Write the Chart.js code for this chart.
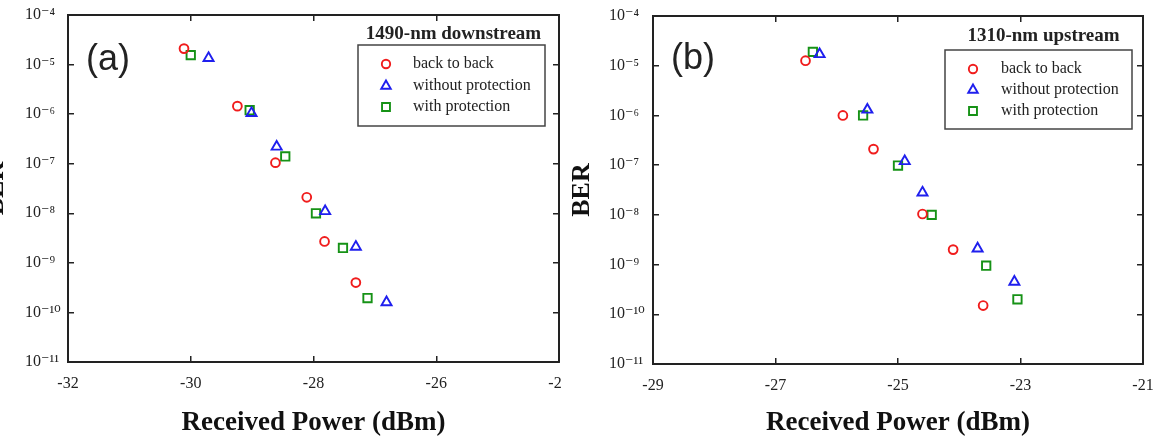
<!DOCTYPE html>
<html><head><meta charset="utf-8">
<script src="https://cdn.jsdelivr.net/npm/chart.js@4.4.1/dist/chart.umd.min.js"></script>
<style>
html,body{margin:0;padding:0;background:#fff;}
body{width:1159px;height:438px;position:relative;overflow:hidden;}
#wa{position:absolute;left:0;top:0;width:562px;height:438px;overflow:hidden;}
#ca{position:absolute;left:-40px;top:0;}
#wb{position:absolute;left:562px;top:0;width:597px;height:438px;overflow:hidden;}
#cb{position:absolute;left:0;top:0;}
</style></head><body>
<div id="wa"><canvas id="ca" width="622" height="438"></canvas></div>
<div id="wb"><canvas id="cb" width="597" height="438"></canvas></div>
<script>
// ---- Data ----
const seriesLabels = ['back to back', 'without protection', 'with protection'];

// (a) 1490-nm downstream
const aPowerB2B    = [-30.11, -29.24, -28.62, -28.11, -27.82, -27.31];
const aBerB2B      = [2.1e-5, 1.45e-6, 1.05e-7, 2.1e-8, 2.7e-9, 4.0e-10];
const aPowerNoProt = [-29.71, -29.01, -28.60, -27.81, -27.31, -26.81];
const aBerNoProt   = [1.35e-5, 1.05e-6, 2.2e-7, 1.1e-8, 2.1e-9, 1.6e-10];
const aPowerProt   = [-30.00, -29.04, -28.46, -27.96, -27.52, -27.12];
const aBerProt     = [1.55e-5, 1.2e-6, 1.4e-7, 1.0e-8, 2.0e-9, 1.95e-10];

// (b) 1310-nm upstream
const bPowerB2B    = [-26.51, -25.90, -25.40, -24.60, -24.10, -23.61];
const bBerB2B      = [1.26e-5, 1.0e-6, 2.1e-7, 1.04e-8, 2.0e-9, 1.5e-10];
const bPowerNoProt = [-26.28, -25.50, -24.89, -24.60, -23.70, -23.10];
const bBerNoProt   = [1.7e-5, 1.3e-6, 1.2e-7, 2.8e-8, 2.1e-9, 4.5e-10];
const bPowerProt   = [-26.39, -25.57, -25.00, -24.45, -23.56, -23.05];
const bBerProt     = [1.9e-5, 1.0e-6, 9.8e-8, 1.0e-8, 9.5e-10, 2.0e-10];

// ---- Ticks / text ----
const aXTicks = [-32, -30, -28, -26, -24];
const bXTicks = [-29, -27, -25, -23, -21];
const yTicks  = [1e-11, 1e-10, 1e-9, 1e-8, 1e-7, 1e-6, 1e-5, 1e-4];
const xTitle = 'Received Power (dBm)';
const yTitle = 'BER';
const aHeading = '1490-nm downstream';
const bHeading = '1310-nm upstream';
const aPanel = '(a)';
const bPanel = '(b)';

// ---- Helpers ----
const SERIF = "'Liberation Serif', 'Times New Roman', 'DejaVu Serif', serif";
const SUP = {'-':'\u207B','0':'\u2070','1':'\u00B9','2':'\u00B2','3':'\u00B3','4':'\u2074','5':'\u2075','6':'\u2076','7':'\u2077','8':'\u2078','9':'\u2079'};
function expLabel(v){
  const e = Math.round(Math.log10(v));
  return '10' + String(e).split('').map(c => SUP[c]).join('');
}
function pts(xs, ys){ return xs.map((x, i) => ({x: x, y: ys[i]})); }

const COLORS = ['#f01c1c', '#1f1fee', '#169216'];
const STYLES = ['circle', 'triangle', 'rect'];
const RADII  = [4.4, 5.8, 5.9];

const insetLegend = {
  id: 'insetLegend',
  afterDraw(chart, args, o) {
    const ctx = chart.ctx, ca = chart.chartArea;
    ctx.save();
    ctx.fillStyle = '#222';
    ctx.textBaseline = 'middle';
    ctx.textAlign = 'left';
    ctx.font = "36px 'Liberation Sans', Arial, sans-serif";
    ctx.fillText(o.panel, ca.left + o.panelDx, ca.top + o.panelDy);

    const bx = ca.right - o.boxRight - o.boxW;
    const by = ca.top + o.boxTop;
    ctx.font = 'bold 19px ' + SERIF;
    ctx.textAlign = 'center';
    ctx.fillText(o.heading, bx + o.boxW - o.headingCx, ca.top + o.headingDy);

    ctx.strokeStyle = '#444';
    ctx.lineWidth = 1.5;
    ctx.strokeRect(bx, by, o.boxW, o.boxH);

    ctx.font = '16px ' + SERIF;
    ctx.textAlign = 'left';
    chart.data.datasets.forEach((ds, i) => {
      const y = by + o.rowDy[i];
      ctx.save();
      ctx.strokeStyle = ds.borderColor;
      ctx.fillStyle = 'rgba(0,0,0,0)';
      ctx.lineWidth = ds.pointBorderWidth;
      Chart.helpers.drawPoint(ctx, {pointStyle: ds.pointStyle, radius: ds.pointRadius * 0.95, borderWidth: ds.pointBorderWidth, rotation: 0}, bx + o.markerDx, y);
      ctx.restore();
      ctx.fillStyle = '#222';
      ctx.fillText(ds.label, bx + o.textDx, y);
    });
    ctx.restore();
  }
};

function makeChart(cfg) {
  const fix = (prop, size) => s => {
    s[prop] = size;
    s.paddingLeft = 0; s.paddingRight = 0; s.paddingTop = 0; s.paddingBottom = 0;
  };
  const setTicks = vals => s => { s.ticks = vals.map(v => ({value: v})); };
  const grid = {display: true, drawOnChartArea: false, drawTicks: true, tickLength: -6, color: '#222', lineWidth: 1.5};
  const border = {display: true, color: '#222', width: 2};
  const xMin = cfg.xTicks[0], xMax = cfg.xTicks[cfg.xTicks.length - 1];

  const datasets = cfg.series.map((s, i) => ({
    label: seriesLabels[i],
    data: pts(s[0], s[1]),
    pointStyle: STYLES[i],
    pointRadius: RADII[i],
    pointBorderWidth: 1.9,
    borderColor: COLORS[i],
    backgroundColor: 'rgba(0,0,0,0)',
    pointBackgroundColor: 'rgba(0,0,0,0)',
    showLine: false
  }));

  return new Chart(document.getElementById(cfg.id), {
    type: 'scatter',
    data: {datasets: datasets},
    plugins: [insetLegend],
    options: {
      responsive: false,
      animation: false,
      devicePixelRatio: 1,
      layout: {padding: cfg.padding},
      plugins: {
        legend: {display: false},
        tooltip: {enabled: false},
        insetLegend: cfg.legend
      },
      scales: {
        x: {
          type: 'linear', position: 'bottom', min: xMin, max: xMax,
          afterBuildTicks: setTicks(cfg.xTicks),
          afterFit: fix('height', cfg.xHeight),
          grid: grid, border: border,
          ticks: {autoSkip: false, maxRotation: 0, padding: 20, color: '#222',
                  font: {family: SERIF, size: 16, lineHeight: 1},
                  callback: v => String(v)},
          title: {display: true, text: xTitle, color: '#111',
                  font: {family: SERIF, size: 27, weight: 'bold', lineHeight: 1},
                  padding: {top: 0, bottom: 1.5}}
        },
        x2: {
          type: 'linear', position: 'top', min: xMin, max: xMax,
          afterBuildTicks: setTicks(cfg.xTicks),
          afterFit: fix('height', 0),
          grid: grid, border: border,
          ticks: {display: false}
        },
        y: {
          type: 'logarithmic', position: 'left', min: yTicks[0], max: yTicks[yTicks.length - 1],
          afterBuildTicks: setTicks(yTicks),
          afterFit: fix('width', cfg.yWidth),
          grid: grid, border: border,
          ticks: {autoSkip: false, crossAlign: 'far', color: '#222',
                  font: {family: SERIF, size: 16, lineHeight: 1},
                  callback: v => expLabel(v)},
          title: {display: true, text: yTitle, color: '#111',
                  font: {family: SERIF, size: 26, weight: 'bold', lineHeight: 1},
                  padding: {top: cfg.yTitlePad, bottom: 0}}
        },
        y2: {
          type: 'logarithmic', position: 'right', min: yTicks[0], max: yTicks[yTicks.length - 1],
          afterBuildTicks: setTicks(yTicks),
          afterFit: fix('width', 0),
          grid: grid, border: border,
          ticks: {display: false}
        }
      }
    }
  });
}

makeChart({
  id: 'ca',
  series: [[aPowerB2B, aBerB2B], [aPowerNoProt, aBerNoProt], [aPowerProt, aBerProt]],
  xTicks: aXTicks,
  padding: {left: 65, right: 23, top: 15, bottom: 0},
  yWidth: 43, xHeight: 76, yTitlePad: -42,
  legend: {panel: aPanel, panelDx: 18, panelDy: 45, heading: aHeading,
           boxRight: 14, boxW: 187, boxTop: 30, boxH: 81, headingCx: 91.5, headingDy: 19,
           rowDy: [19, 41, 62], markerDx: 28, textDx: 55}
});

makeChart({
  id: 'cb',
  series: [[bPowerB2B, bBerB2B], [bPowerNoProt, bBerNoProt], [bPowerProt, bBerProt]],
  xTicks: bXTicks,
  padding: {left: 47, right: 16, top: 16, bottom: 0},
  yWidth: 44, xHeight: 74, yTitlePad: -39.5,
  legend: {panel: bPanel, panelDx: 18, panelDy: 43, heading: bHeading,
           boxRight: 11, boxW: 187, boxTop: 34, boxH: 79, headingCx: 88.5, headingDy: 20,
           rowDy: [19, 40, 61], markerDx: 28, textDx: 56}
});
</script>
</body></html>
